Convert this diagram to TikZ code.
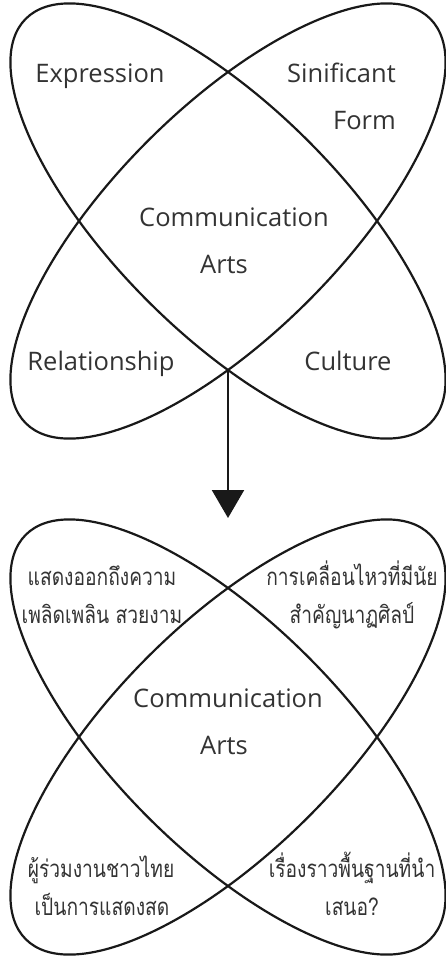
\documentclass[tikz,border=0pt]{standalone}
\usepackage{fontspec}
\setmainfont{Open Sans}
\newfontfamily\thaifont[Script=Thai,FakeStretch=0.8]{Loma}
\usetikzlibrary{arrows.meta}
\tikzset{
  petal/.style={draw=black!90, line width=2.2pt},
  lat/.style={text=black!80, inner sep=0pt, font=\fontsize{25.5}{30}\selectfont},
  th/.style={text=black!80, inner sep=0pt, font=\thaifont\fontsize{24}{30}\selectfont},
  flow/.style={draw=black!90, line width=2.2pt, -{Triangle[width=32pt,length=28pt]}}
}
\begin{document}
\begin{tikzpicture}[x=1pt,y=-1pt]
\useasboundingbox (0,0) rectangle (446,956);
% top diagram
\coordinate (c1) at (228,221);
\draw[petal, rotate around={45:(c1)}] (c1) ellipse [x radius=286, y radius=113.3];
\draw[petal, rotate around={-45:(c1)}] (c1) ellipse [x radius=286, y radius=113.3];
\node[lat, anchor=base] (expr) at (100,82) {Expression};
\node[lat, anchor=base east] (sinif) at (396,82) {Sinificant};
\node[lat, anchor=base east] (form) at (396,129) {Form};
\node[lat, anchor=base] (comm1) at (234,226) {Communication};
\node[lat, anchor=base] (arts1) at (224,273) {Arts};
\node[lat, anchor=base] (rel) at (101,370) {Relationship};
\node[lat, anchor=base] (cult) at (348,370) {Culture};
% arrow
\coordinate (x1) at (228,371);
\coordinate (tip) at (228,518);
\draw[flow] (x1) -- (tip);
% bottom diagram
\coordinate (c2) at (228,737);
\draw[petal, rotate around={45:(c2)}] (c2) ellipse [x radius=286, y radius=113.3];
\draw[petal, rotate around={-45:(c2)}] (c2) ellipse [x radius=286, y radius=113.3];
\node[th, anchor=base] (tl1) at (102,585) {แสดงออกถึงความ};
\node[th, anchor=base] (tl2) at (102,623) {เพลิดเพลิน สวยงาม};
\node[th, anchor=base] (tr1) at (352,585) {การเคลื่อนไหวที่มีนัย};
\node[th, anchor=base] (tr2) at (352,623) {สำคัญนาฏศิลป์};
\node[lat, anchor=base] (comm2) at (228,707) {Communication};
\node[lat, anchor=base] (arts2) at (224,754) {Arts};
\node[th, anchor=base] (bl1) at (101,877) {ผู้ร่วมงานชาวไทย};
\node[th, anchor=base] (bl2) at (102,915) {เป็นการแสดงสด};
\node[th, anchor=base] (br1) at (352,877) {เรื่องราวพื้นฐานที่นำ};
\node[th, anchor=base] (br2) at (352,915) {เสนอ?};
\end{tikzpicture}
\end{document}
